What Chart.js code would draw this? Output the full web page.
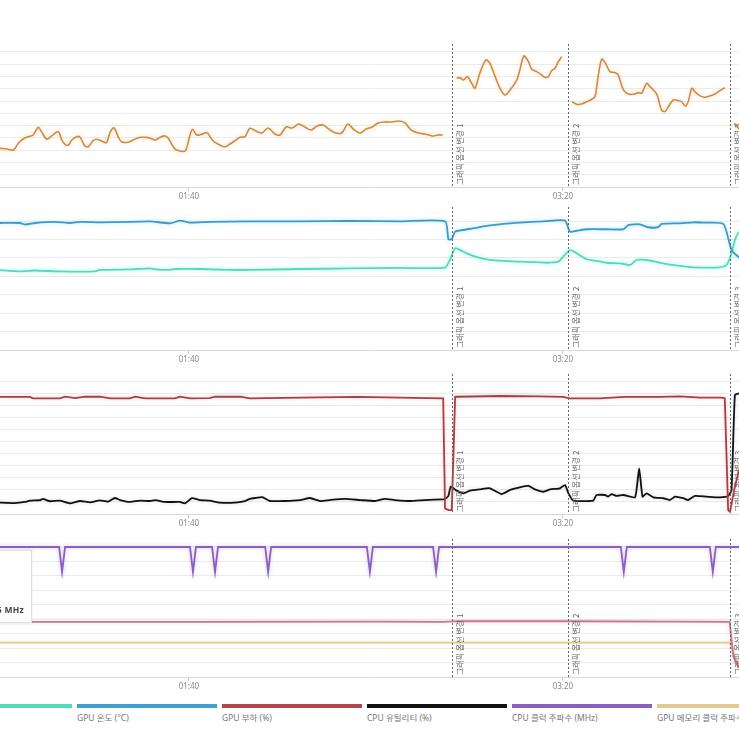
<!DOCTYPE html>
<html><head><meta charset="utf-8">
<script src="https://cdn.jsdelivr.net/npm/chart.js@4"></script>
<style>
html,body{margin:0;padding:0;background:#fff;width:739px;height:739px;overflow:hidden;position:relative;font-family:"Noto Sans","Noto Sans CJK KR",sans-serif;}
canvas{position:absolute;left:0;}
.bar{position:absolute;height:4px;top:704px;}
.lab{position:absolute;top:711px;font-size:8.5px;color:#777;white-space:nowrap;font-family:"Noto Sans","Noto Sans CJK KR",sans-serif;}
#tip{position:absolute;left:-100px;top:550px;width:130px;height:71px;background:#fff;border:1px solid #e0e0e0;box-shadow:0 0 3px rgba(0,0,0,0.08);z-index:5;}
#tip div{position:absolute;right:7px;top:52px;font-size:8.5px;font-weight:bold;color:#444;white-space:nowrap;letter-spacing:0.3px;}
</style></head><body>
<canvas id="c1" width="739" height="157" style="top:44px"></canvas>
<canvas id="c2" width="739" height="157" style="top:207px"></canvas>
<canvas id="c3" width="739" height="154" style="top:374px"></canvas>
<canvas id="c4" width="739" height="152" style="top:539px"></canvas>
<div id="tip"><div>CPU 클럭 주파수: 4496 MHz</div></div>
<div id="legend"></div>
<script>
// ---- x axis (seconds) ----
const xMin = 49.5, xMax = 247.1;
const xTicks = [100, 200];
const markerTimes = [170.4, 201.4, 244.7];
const markerLabels = ['그래픽 옵션 변경 1', '그래픽 옵션 변경 2', '그래픽 옵션 변경 3'];

// ---- panel 1: frame rate (orange) ----
const fpsTime = [49.5,51.3,53.1,54.4,55.7,57.1,58.4,59.7,60.6,62,63.3,65.1,66,66.9,67.8,68.7,70,70.9,72.2,73.1,74.4,75.4,77.1,78,78.9,80,81.1,82,83.8,84.7,86.1,87.4,89.2,91,92.3,93.6,94.5,95.8,96.7,99,100.3,101,102.1,103.4,104.8,106.5,108.3,109.7,111,112.3,113.7,115,116.3,
 117.9,119.5,121.2,123,124.4,126,127.6,129.4,131,132.7,134.3,135.9,137.7,139.3,140.9,142.5,144.2,145.8,147.4,149,150.6,152.4,154.3,156.2,157.8,159.4,161.3,163.1,165,166.6,167.9,
 170,
 171.6,172.5,173.4,174.5,175.6,176.5,177.8,179.4,180.5,181.9,183.2,184.5,185.9,187.7,188.5,189.6,190.8,191.7,193,194.3,195.2,196.1,197,197.9,198.8,199.7,
 201,
 202.4,203.7,205,206.4,207.7,208.6,209.5,210.4,211.3,212.6,213.9,214.8,216.2,217.5,218.8,220.2,221.1,222.4,223.3,224.2,225.2,226.4,227.3,228.2,229.5,230.9,231.8,232.7,233.5,234.5,235.3,236.7,238,239.3,240.7,242,243.3,
 244.5,
 245.8,247.5];
const fpsValue = [31.5,31,30.2,35.6,39.1,41,42.4,48.7,45.1,38.9,41.6,45.1,38.3,34.8,34.2,38.3,41,40.5,33.4,32.8,37.7,38.9,36.9,36.1,44.3,48.1,41,36.9,36.4,37.7,39.7,40.5,40.2,38.3,40.5,41.6,39.7,32.8,30.2,29.3,42.4,47,42.4,42.9,44.3,37.5,34.2,32.8,35,37.7,40.5,41,47.8,
 45.6,44,48.1,43.2,42.4,48.9,48.1,51.3,48.9,46.5,49.7,50.5,46.5,44,44,51.3,46.5,44,47.3,48.9,52.2,53,53,53.8,52.2,46.5,44,43.2,41.6,42.4,42.4,
 null,
 88.6,89.1,87.2,89.9,84.5,80.4,92.7,103.5,100.8,89.9,80.4,75,79,87.2,95.4,106.8,102.1,95.9,94,91.3,89.4,89.9,94.8,96.7,102.1,106.2,
 null,
 69.5,67.4,67.6,69.5,71.5,73.6,91.3,104.1,101.3,94,93.2,91.3,79.1,75.8,75.5,76.9,76.4,84.5,81.7,79.1,75,62.7,61.4,65.4,70.9,70.3,69.5,66,69.5,80.4,77.7,74.2,73.1,74.2,75.8,78.5,80.9,
 null,
 52,46];

// ---- panel 2: temperatures ----
const gpuTempTime = [49,54.8,56.2,58.9,64.2,68.2,70.9,76.2,84.3,89.6,95,97.6,100.3,105.6,116.3,129.7,143.1,156.5,168.5,169.4,170.3,171.2,173.3,176,179.6,184.1,188.5,193,197.4,200.6,201.9,203.7,206.4,211.7,216.2,217.5,220.6,222.8,225.5,226.4,231.3,234.9,237.5,242.9,245.1,246.9,248];
const gpuTempValue = [69,69,68.2,69,69.6,69,69.6,69.4,69.6,69.9,68.8,70.3,69.2,69.6,69.9,69.9,70.1,69.9,69.9,60.2,60.2,64.3,65.2,66.1,67.4,68.5,69.2,69.7,70.3,70.3,64.3,64.8,65.6,65.6,65.6,67.8,68.3,66.7,66.7,68.5,68.8,69.4,69.2,68.5,54.3,50.7,49];
const cpuTempTime = [49,54.8,58.9,65.5,74.9,76.2,84.3,89.6,91,95,96.3,103,111,116.3,129.7,143.1,156.5,168.5,169.8,171.2,173.4,176,179.6,184.1,188.5,195.7,198.8,200.1,201.9,203.7,206.4,209,211.7,215.3,218,219.7,222.4,226,231.3,234.9,242,243.8,245.1,246,247.1,248];
const cpuTempValue = [43.5,42.7,43.2,42.7,42.7,43.5,43.8,44.3,43.8,43.5,44,44,43.5,43.5,44,44.3,44.6,44.8,48.9,55.3,53.4,51.1,49.3,48.4,48,47.4,48,50.7,54.3,52.6,49.3,48.4,47.4,47.1,46.2,48.9,48.9,47.4,45.7,44.9,44.9,46.2,52.6,59.8,64.3,66];

// ---- panel 3: load (%) ----
const gpuLoadTime = [49,57.5,58.3,65.5,66.9,69.6,72.2,76.2,78.9,84.3,85.6,88.3,96.3,97.6,100.3,105.6,107,113.7,116.3,130,145,160,168,168.5,169.4,170.3,171.2,171.6,183.2,193.9,200,201.9,209.9,216.6,226,231.3,236.7,242.5,243.3,244.2,244.7,246,247.1];
const gpuLoadValue = [97.3,97.3,96.2,96.2,97.5,96.4,97.5,97.5,96.2,96.2,97.5,96.2,96.2,97.5,96.2,96.4,97.5,97.5,96.2,96.8,97.3,96.6,96.2,4.7,3.3,3.3,97.5,97.5,98.1,97.8,97.3,96.2,96.2,97.3,97.3,97.8,96.8,96.8,96.2,3.3,1.9,22.7,36.6];
const cpuUtilTime = [49,53.5,56.2,57.5,60.2,61,62.9,65.5,68.2,70.9,73.6,76.2,78.4,80.2,81.6,84.3,86.9,89.6,91,93.6,97.6,99,100.8,103,105.6,108.3,112.3,115,116.3,117.7,119.6,121.7,125.7,129.7,132.4,135.1,137.7,141.7,145.8,149.8,152.4,155.1,159.1,163.1,168,168.5,169.4,170,171.6,173.4,175.2,177.8,180.5,183.6,185.9,188.5,190.8,192.5,194.8,196.6,199.2,200.6,201.5,202.8,208.1,209,211.3,212.1,213,214.4,216.2,219.3,220.4,221.3,222.4,224.2,226.9,228.6,230,232.2,233.5,235.3,238.5,242,244.2,245.1,246,247.1];
const cpuUtilValue = [9.6,9.1,10,11.1,11.6,12.5,10.6,11.1,8.9,10.8,9.7,11.4,10.2,13.3,11.6,10,11.1,10.8,11.6,10,10,8.9,13.1,11.6,11.1,9.4,9.4,10.8,12.5,13.3,14.1,10.8,10.8,11.6,13.3,10.8,11.6,12.5,11.6,10.8,12.5,11.6,10.8,11.6,12.2,12.5,15,22.7,19.4,17.2,19.4,20.5,21.4,16.6,20,22.2,23.3,20.5,18.5,20.5,21.4,24.1,17.2,11.1,11.1,15.8,15.8,14.4,16.6,15,15.8,13.9,38,14.4,17.2,13.9,13.1,11.6,14.4,13.1,11.6,15,14.4,13.9,15,19.9,98.9,100.3];

// ---- panel 4: clocks (MHz) ----
const cpuClockTime = [49,65.3,66.1,66.9,100.3,101.1,101.9,106.2,107,107.8,120.4,121.2,122,147.6,148.4,149.2,165.3,166.1,166.9,215.5,216.3,217.1,239.3,240.1,240.9,248];
const cpuClockValue = [4489,4489,3630,4489,4489,3630,4489,4489,3630,4489,4489,3630,4489,4489,3630,4489,4489,3630,4489,4489,3630,4489,4489,3630,4489,4489];
const gpuClockTime = [49,100,150,168,172,200,230,244.6,245.6,246.9,248];
const gpuClockValue = [1905,1900,1910,1905,1930,1925,1915,1905,701,356,300];
const memClockTime = [49,244.7,246,247.5];
const memClockValue = [1184,1184,700,300];

// ---- legend ----
const legendLabels = ['CPU 온도 (°C)','GPU 온도 (°C)','GPU 부하 (%)','CPU 유틸리티 (%)','CPU 클럭 주파수 (MHz)','GPU 메모리 클럭 주파수 (MHz)'];
const legendColors = ['#4fdcb8','#3d9fd2','#b3444a','#111111','#8b5ec2','#e4c88f'];

const pts = (t, v) => t.map((x, i) => ({x, y: v[i]}));
const fmt = v => String(Math.floor(v/60)).padStart(2,'0') + ':' + String(Math.round(v%60)).padStart(2,'0');

const markerPlugin = {
  id: 'markers',
  afterDatasetsDraw(chart) {
    const ctx = chart.ctx, ca = chart.chartArea, x = chart.scales.x;
    ctx.save();
    markerTimes.forEach((t, i) => {
      const px = Math.round(x.getPixelForValue(t)) + 0.5;
      ctx.strokeStyle = '#666'; ctx.lineWidth = 1; ctx.setLineDash([2, 2]);
      ctx.beginPath(); ctx.moveTo(px, ca.top); ctx.lineTo(px, ca.bottom); ctx.stroke();
      ctx.save();
      ctx.translate(px + 3, ca.bottom - 2);
      ctx.rotate(-Math.PI / 2);
      ctx.fillStyle = '#666';
      ctx.font = '8px "Noto Sans CJK KR"';
      ctx.textAlign = 'left'; ctx.textBaseline = 'top';
      ctx.fillText(markerLabels[i], 0, 0);
      ctx.restore();
    });
    ctx.restore();
  }
};
const glowPlugin = {
  id: 'glow',
  beforeDatasetDraw(chart, args) {
    const ds = chart.data.datasets[args.index];
    chart.ctx.save();
    chart.ctx.shadowColor = ds.glow || 'rgba(0,0,0,0)';
    chart.ctx.shadowBlur = 4;
  },
  afterDatasetDraw(chart) { chart.ctx.restore(); }
};

function makeChart(id, datasets, yMax, yTicks) {
  return new Chart(document.getElementById(id), {
    type: 'line',
    data: { datasets },
    options: {
      responsive: false, animation: false, events: [],
      layout: { padding: 0 },
      plugins: { legend: { display: false }, tooltip: { enabled: false } },
      elements: { point: { radius: 0 }, line: { borderWidth: 1.8 } },
      scales: {
        x: {
          type: 'linear', min: xMin, max: xMax,
          afterBuildTicks: s => { s.ticks = xTicks.map(v => ({ value: v })); },
          afterFit: s => { s.height = 14; },
          grid: { drawOnChartArea: false, drawTicks: true, tickLength: 4, color: '#c8c8c8' },
          border: { display: false },
          ticks: { padding: 1, maxRotation: 0, autoSkip: false, color: '#888', font: { size: 8, family: '"Noto Sans"' }, callback: v => fmt(v) }
        },
        y: {
          min: 0, max: yMax,
          afterBuildTicks: s => { s.ticks = yTicks.map(v => ({ value: v })); },
          afterFit: s => { s.width = 0; },
          ticks: { display: false },
          border: { display: false },
          grid: { drawTicks: false, color: c => c.tick && c.tick.value === 0 ? '#d8d8d8' : '#ebebeb' }
        }
      }
    },
    plugins: [glowPlugin, markerPlugin]
  });
}
const range = (n, step) => Array.from({ length: n }, (_, i) => i * step);

makeChart('c1', [
  { data: pts(fpsTime, fpsValue), borderColor: '#d18a42', glow: 'rgba(235,170,90,0.4)', borderWidth: 1.6, tension: 0.3, spanGaps: false }
], 116.5, range(12, 10));

makeChart('c2', [
  { data: pts(gpuTempTime, gpuTempValue), borderColor: '#3a9acb', glow: 'rgba(80,200,240,0.45)', tension: 0.2 },
  { data: pts(cpuTempTime, cpuTempValue), borderColor: '#4fdcb8', glow: 'rgba(80,230,200,0.45)', tension: 0.2 }
], 77.7, range(8, 10));

makeChart('c3', [
  { data: pts(gpuLoadTime, gpuLoadValue), borderColor: '#ad3c42', glow: 'rgba(230,120,120,0.35)', tension: 0 },
  { data: pts(cpuUtilTime, cpuUtilValue), borderColor: '#111111', glow: 'rgba(0,0,0,0.15)', tension: 0.15 }
], 116.4, range(12, 10));

makeChart('c4', [
  { data: pts(cpuClockTime, cpuClockValue), borderColor: '#8b5ec2', glow: 'rgba(150,110,210,0.4)', tension: 0 },
  { data: pts(gpuClockTime, gpuClockValue), borderColor: '#c27893', glow: 'rgba(220,130,160,0.35)', tension: 0 },
  { data: pts(memClockTime, memClockValue), borderColor: '#e4c88f', glow: 'rgba(240,210,140,0.4)', tension: 0 }
], 4765, range(10, 500));

const leg = document.getElementById('legend');
legendLabels.forEach((lab, i) => {
  const left = -68 + i * 145;
  const b = document.createElement('div');
  b.className = 'bar'; b.style.left = left + 'px'; b.style.width = '140px'; b.style.background = legendColors[i];
  leg.appendChild(b);
  const t = document.createElement('div');
  t.className = 'lab'; t.style.left = left + 'px'; t.textContent = lab;
  leg.appendChild(t);
});
</script>
</body></html>
